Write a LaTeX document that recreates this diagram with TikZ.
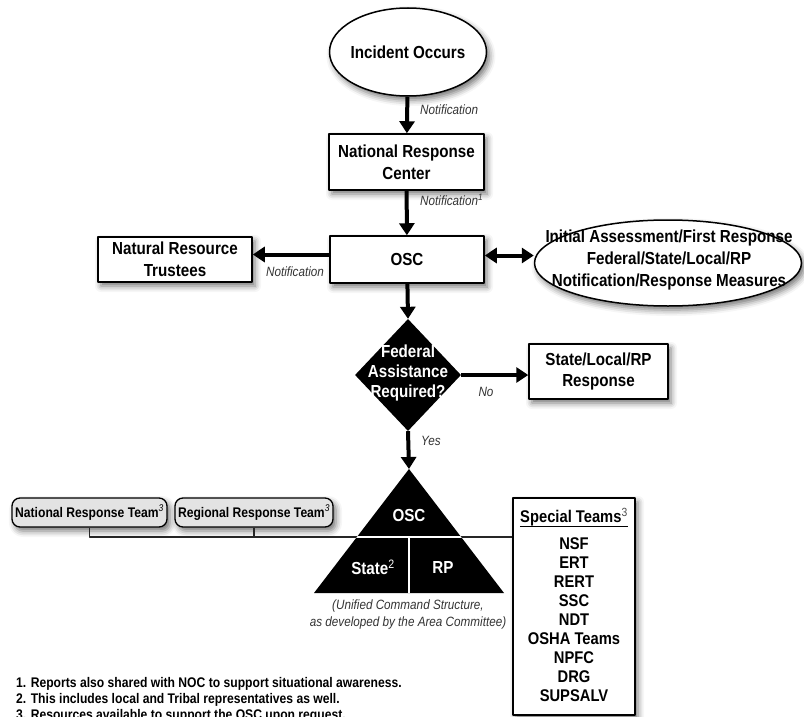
\documentclass[tikz,border=0pt]{standalone}
\usepackage{fontspec}
\setmainfont{Liberation Sans}[FakeStretch=0.87]
\usetikzlibrary{arrows.meta,shapes.geometric,shadows.blur}
\begin{document}
\begin{tikzpicture}[x=1bp, y=-1bp, line join=round,
    box/.style={draw=black, line width=1.5bp, fill=white, inner sep=0pt, align=center,
      font=\fontsize{17.5}{22}\selectfont\bfseries,
      blur shadow={shadow xshift=3bp, shadow yshift=-4bp, shadow blur radius=6bp, shadow opacity=55}},
    oval/.style={box, ellipse},
    txt/.style={inner sep=0pt, align=center, font=\fontsize{17.5}{22.5}\selectfont\bfseries},
    wtxt/.style={inner sep=0pt, align=center, text=white, font=\fontsize{17.5}{20.5}\selectfont\bfseries},
    note/.style={inner sep=1pt, text=black!80, font=\fontsize{13.5}{17}\selectfont\itshape},
    tag/.style={box, rounded corners=8bp, fill=black!11, line width=1.3bp, font=\fontsize{14}{16}\selectfont\bfseries},
    team/.style={inner sep=0pt, font=\fontsize{17}{19}\selectfont\bfseries},
    foot/.style={inner sep=0pt, anchor=west, font=\fontsize{14}{16}\selectfont\bfseries},
    flow/.style={line width=4bp, -{Triangle[width=15bp,length=12bp]}},
    both/.style={line width=4bp, {Triangle[width=15bp,length=12bp]}-{Triangle[width=15bp,length=12bp]}},
    bus/.style={line width=1.4bp, draw=black!85}]
  \useasboundingbox (0,0) rectangle (804,717);
  \clip (0,0) rectangle (804,717);
  \node[oval, minimum width=157bp, minimum height=88bp] (inc) at (408,52) {};
  \node[txt] (inctxt) at (inc.center) {Incident Occurs};
  \node[box, minimum width=155bp, minimum height=56bp] (nrc) at (406.5,162) {National Response\\Center};
  \node[box, minimum width=154bp, minimum height=47bp] (osc) at (407,259.5) {OSC};
  \node[box, minimum width=154bp, minimum height=45bp] (nrt) at (175,259.5) {Natural Resource\\Trustees};
  \node[oval, minimum width=267bp, minimum height=86bp] (ia) at (668,263) {};
  \node[txt] (iatxt) at (669,260) {Initial Assessment/First Response\\Federal/State/Local/RP\\Notification/Response Measures};
  \node[diamond, fill=black, inner sep=0pt, minimum width=106bp, minimum height=112bp] (fed) at (408,375) {};
  \node[wtxt] (fedtxt) at (408,373) {Federal\\Assistance\\Required?};
  \node[box, minimum width=139bp, minimum height=55bp] (slr) at (598.5,371.5) {State/Local/RP\\Response};
  \draw[flow] (inc) -- (nrc);
  \draw[flow] (nrc) -- (osc);
  \draw[flow] ([yshift=5bp]osc.west) -- ([yshift=5bp]osc.west -| nrt.east);
  \draw[both] ([yshift=4bp]osc.east) -- ([yshift=4bp]osc.east -| ia.west);
  \draw[flow] (osc) -- (fed.north);
  \draw[flow] (fed.east) -- (fed.east -| slr.west);
  \node[note, anchor=west] (n1) at (419,110) {Notification};
  \node[note, anchor=west] (n2) at (419,200) {Notification\textsuperscript{1}};
  \node[note] (n3) at (295,272) {Notification};
  \node[note] (nno) at (486,392) {No};
  \node[note, anchor=west] (nyes) at (420,441) {Yes};
  \coordinate (ucs) at (409,469);
  \coordinate (ucsl) at (314,593);
  \coordinate (ucsr) at (504,593);
  \coordinate (ucsmid) at (409,537);
  \node[tag, minimum width=155bp, minimum height=29bp] (natteam) at (89.5,512.5) {National Response Team\textsuperscript{\mdseries\itshape 3}};
  \node[tag, minimum width=158bp, minimum height=29bp] (regteam) at (254,512.5) {Regional Response Team\textsuperscript{\mdseries\itshape 3}};
  \node[box, minimum width=122bp, minimum height=217bp] (st) at (574,606.5) {};
  \draw[bus] (natteam.south) |- (st.west |- ucsmid);
  \draw[bus] (regteam.south) -- (regteam.south |- ucsmid);
  \draw[flow] (fed.south) -- (ucs);
  \fill[black] (ucsl) -- (ucs) -- (ucsr) -- cycle;
  \begin{scope}
    \clip (ucsl) -- (ucs) -- (ucsr) -- cycle;
    \draw[white, line width=2.5bp] (ucsmid -| ucsl) -- (ucsmid -| ucsr);
    \draw[white, line width=2.5bp] (ucsmid) -- (ucsmid |- ucsl);
  \end{scope}
  \node[wtxt] (tosc) at (409,515) {OSC};
  \node[wtxt] (tstate) at (373,567) {State\textsuperscript{\mdseries 2}};
  \node[wtxt] (trp) at (443,567) {RP};
  \node[note, align=center] (ucstxt) at (408,614.5) {(Unified Command Structure,\\as developed by the Area Committee)};
  \node[team, minimum width=108bp] (sthead) at (574,517) {Special Teams\textsuperscript{\mdseries\color{black!70}3}};
  \draw[line width=1.3bp] (sthead.south west) -- (sthead.south east);
  \foreach \t [count=\i] in {NSF,ERT,RERT,SSC,NDT,OSHA Teams,NPFC,DRG,SUPSALV}
    \node[team] (team\i) at (574,525+19*\i) {\t};
  \node[foot] (fn1) at (16,684) {1. Reports also shared with NOC to support situational awareness.};
  \node[foot] (fn2) at (16,700) {2. This includes local and Tribal representatives as well.};
  \node[foot] (fn3) at (16,716) {3. Resources available to support the OSC upon request.};
\end{tikzpicture}
\end{document}
